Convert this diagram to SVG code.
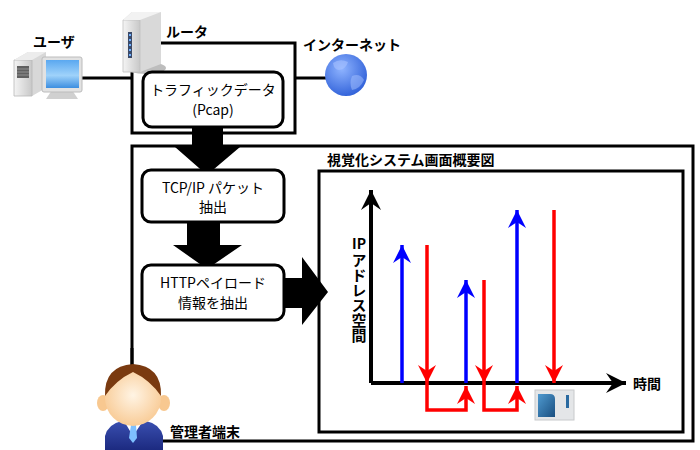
<svg xmlns="http://www.w3.org/2000/svg" width="700" height="450" viewBox="0 0 700 450">
  <defs>
    <style>
      .frame { fill: none; stroke: #000; stroke-width: 3; }
      .proc { fill: #fff; stroke: #000; stroke-width: 3; }
      .lbl { font-family: "Noto Sans CJK JP", "Liberation Sans", sans-serif; font-weight: bold; font-size: 14px; fill: #000; }
      .txt { font-family: "Noto Sans CJK JP", "Liberation Sans", sans-serif; font-size: 14px; fill: #000; }
      .vert { font-family: "Noto Sans CJK JP", "Liberation Sans", sans-serif; font-weight: bold; font-size: 15px; fill: #000; writing-mode: vertical-rl; text-orientation: upright; }
      .flow { fill: #000; }
      .axis { fill: none; stroke: #000; stroke-width: 4; }
      .blue { fill: none; stroke: #0000ff; stroke-width: 3.5; }
      .red { fill: none; stroke: #ff0000; stroke-width: 3.5; }
    </style>
    <marker id="headBlue" viewBox="0 0 20 20" refX="20" refY="10" markerWidth="20" markerHeight="20" markerUnits="userSpaceOnUse" orient="auto">
      <path d="M20,10 L2,1 L8,10 L2,19 Z" fill="#0000ff"/>
    </marker>
    <marker id="headRed" viewBox="0 0 20 20" refX="20" refY="10" markerWidth="20" markerHeight="20" markerUnits="userSpaceOnUse" orient="auto">
      <path d="M20,10 L2,1 L8,10 L2,19 Z" fill="#ff0000"/>
    </marker>
    <marker id="headAxis" viewBox="0 0 22 22" refX="22" refY="11" markerWidth="22" markerHeight="22" markerUnits="userSpaceOnUse" orient="auto">
      <path d="M22,11 L2,1 L9,11 L2,21 Z" fill="#000"/>
    </marker>
    <linearGradient id="screenGrad" x1="0" y1="0" x2="0" y2="1">
      <stop offset="0" stop-color="#5aa8f0"/>
      <stop offset="0.55" stop-color="#9fd2fa"/>
      <stop offset="1" stop-color="#3c8ee0"/>
    </linearGradient>
    <linearGradient id="greyGrad" x1="0" y1="0" x2="1" y2="0">
      <stop offset="0" stop-color="#f4f4f4"/>
      <stop offset="1" stop-color="#c8c8c8"/>
    </linearGradient>
    <radialGradient id="globeGrad" cx="0.4" cy="0.35" r="0.7">
      <stop offset="0" stop-color="#8fb4ff"/>
      <stop offset="1" stop-color="#2e5fd8"/>
    </radialGradient>
    <radialGradient id="faceGrad" cx="0.5" cy="0.45" r="0.6">
      <stop offset="0" stop-color="#fff4e4"/>
      <stop offset="1" stop-color="#f8c890"/>
    </radialGradient>
    <linearGradient id="suitGrad" x1="0" y1="0" x2="0" y2="1">
      <stop offset="0" stop-color="#3a4fb0"/>
      <stop offset="1" stop-color="#1c2a80"/>
    </linearGradient>
    <linearGradient id="winGrad" x1="0" y1="0" x2="1" y2="1">
      <stop offset="0" stop-color="#4f9ad0"/>
      <stop offset="1" stop-color="#1a4f80"/>
    </linearGradient>
  </defs>

  <!-- connectors: network links, frames and data-flow arrows -->
  <g id="connectors">
    <line x1="82" y1="78" x2="132" y2="78" stroke="#000" stroke-width="3"/>
    <line x1="295" y1="78" x2="326" y2="78" stroke="#000" stroke-width="3"/>
    <line x1="132" y1="348" x2="132" y2="366" stroke="#000" stroke-width="3"/>
    <!-- block arrows between processing stages -->
    <path class="flow" d="M192,123 H223 V147 H240 L207,175 L175,147 H192 Z"/>
    <path class="flow" d="M187,221 H220 V245 H242 L207,269 L173,245 H187 Z"/>
    <path class="flow" d="M283,278 H302 V257 L328,292 L302,325 V308 H283 Z"/>
  </g>

  <!-- router frame -->
  <g id="router-frame">
    <path class="frame" d="M158,43 H295 V133 H132 V70"/>
  </g>

  <!-- management terminal frame -->
  <g id="terminal-frame">
    <path class="frame" d="M132,366 V146 H693 V441 H162"/>
  </g>

  <!-- user PC -->
  <g id="user">
    <text class="lbl" x="33" y="47">ユーザ</text>
    <path d="M14,60 L28,52 H46 L46,88 L32,96 H14 Z" fill="#d8d8d8"/>
    <path d="M14,60 H32 V96 H14 Z" fill="url(#greyGrad)" stroke="#b8b8b8" stroke-width="0.8"/>
    <path d="M14,60 L28,52 H46 L32,60 Z" fill="#ececec"/>
    <rect x="17" y="66" width="12" height="12" fill="#606060"/>
    <line x1="17" y1="69" x2="29" y2="69" stroke="#909090" stroke-width="1"/>
    <line x1="17" y1="72" x2="29" y2="72" stroke="#909090" stroke-width="1"/>
    <line x1="17" y1="75" x2="29" y2="75" stroke="#909090" stroke-width="1"/>
    <path d="M52,90 H72 L78,99 H46 Z" fill="#d0d0d0"/>
    <rect x="42" y="57" width="40" height="35" rx="2" fill="#e2e2e2" stroke="#bcbcbc" stroke-width="1"/>
    <rect x="46" y="60" width="33" height="28" fill="url(#screenGrad)"/>
  </g>

  <!-- router -->
  <g id="router">
    <text class="lbl" x="166" y="37">ルータ</text>
    <ellipse cx="146" cy="68" rx="20" ry="6" fill="#bdbdbd"/>
    <path d="M123,20 L132,12 H161 V64 L140,72 H123 Z" fill="#d9d9d9"/>
    <path d="M123,20 H140 V72 H123 Z" fill="url(#greyGrad)" stroke="#c0c0c0" stroke-width="0.8"/>
    <path d="M123,20 L132,12 H161 L140,20 Z" fill="#f2f2f2"/>
    <rect x="128" y="32" width="4" height="26" fill="#3a4a6a"/>
    <g fill="#6fb0ff">
      <rect x="129" y="34" width="2" height="2"/>
      <rect x="129" y="39" width="2" height="2"/>
      <rect x="129" y="44" width="2" height="2"/>
      <rect x="129" y="49" width="2" height="2"/>
      <rect x="129" y="54" width="2" height="2"/>
    </g>
  </g>

  <!-- internet -->
  <g id="internet">
    <text class="lbl" x="303" y="50">インターネット</text>
    <circle cx="346" cy="75" r="21" fill="url(#globeGrad)"/>
    <path d="M333,63 Q340,58 348,62 Q346,69 339,70 Q334,70 333,63 Z" fill="#a6c2ff" opacity="0.6"/>
    <path d="M352,76 Q360,73 364,80 Q360,89 352,90 Q349,83 352,76 Z" fill="#a6c2ff" opacity="0.5"/>
  </g>

  <!-- captured traffic -->
  <g id="traffic-data">
    <rect class="proc" x="143" y="72" width="140" height="55" rx="9"/>
    <text class="txt" x="213" y="95" text-anchor="middle">トラフィックデータ</text>
    <text class="txt" x="213" y="115" text-anchor="middle" font-size="12">(Pcap)</text>
  </g>

  <!-- packet extraction stage -->
  <g id="packet-extract">
    <rect class="proc" x="142" y="170" width="142" height="52" rx="9"/>
    <text class="txt" x="213" y="193" text-anchor="middle">TCP/IP パケット</text>
    <text class="txt" x="213" y="212" text-anchor="middle">抽出</text>
  </g>

  <!-- payload extraction stage -->
  <g id="payload-extract">
    <rect class="proc" x="142" y="265" width="142" height="55" rx="9"/>
    <text class="txt" x="213" y="288" text-anchor="middle" font-size="15">HTTPペイロード</text>
    <text class="txt" x="213" y="308" text-anchor="middle" font-size="15">情報を抽出</text>
  </g>

  <!-- visualization screen -->
  <g id="visualization">
    <text class="lbl" x="327" y="165" font-size="14.5">視覚化システム画面概要図</text>
    <rect class="frame" x="319" y="171" width="364" height="261"/>
    <path class="axis" d="M371,383 V190" marker-end="url(#headAxis)"/>
    <path class="axis" d="M371,383 H626" marker-end="url(#headAxis)"/>
    <!-- vertical axis caption -->
    <text class="lbl" x="359" y="249" text-anchor="middle" font-size="15">IP</text>
    <text class="vert" x="359" y="253">アドレス空間</text>
    <text class="lbl" x="633" y="389" font-size="15">時間</text>
    <!-- traffic events on the IP/time plane -->
    <path class="blue" d="M402,383 V245" marker-end="url(#headBlue)"/>
    <path class="red" d="M427,245 V383" marker-end="url(#headRed)"/>
    <path class="red" d="M427,383 V410 H466 V386" marker-end="url(#headRed)"/>
    <path class="blue" d="M466,383 V280" marker-end="url(#headBlue)"/>
    <path class="red" d="M484,280 V383" marker-end="url(#headRed)"/>
    <path class="red" d="M484,383 V410 H517 V386" marker-end="url(#headRed)"/>
    <path class="blue" d="M517,383 V210" marker-end="url(#headBlue)"/>
    <path class="red" d="M554,210 V383" marker-end="url(#headRed)"/>
    <!-- window icon -->
    <rect x="535" y="390" width="39" height="30" fill="#e4e6e8" stroke="#c8cacc" stroke-width="1"/>
    <path d="M538,417 V394 H550 Q555,394 555,399 V417 Z" fill="url(#winGrad)"/>
    <rect x="566" y="395" width="3" height="13" fill="#2a6aa0"/>
  </g>

  <!-- administrator terminal -->
  <g id="admin">
    <path d="M105,450 V436 Q108,424 122,421 H146 Q160,424 163,436 V450 Z" fill="url(#suitGrad)"/>
    <path d="M124,421 L133,436 L143,421 Z" fill="#ffffff"/>
    <path d="M131,425 H136 L137,438 L133,443 L129,438 Z" fill="#7ec0ff"/>
    <ellipse cx="103" cy="403" rx="6" ry="8" fill="#f8c890"/>
    <ellipse cx="164" cy="403" rx="6" ry="8" fill="#f8c890"/>
    <ellipse cx="133" cy="398" rx="28" ry="28" fill="url(#faceGrad)"/>
    <path d="M105,396 Q104,366 133,364 Q162,366 161,396 Q150,380 133,372 Q116,380 105,396 Z" fill="#7a3a10"/>
    <text class="lbl" x="170" y="437" font-size="15">管理者端末</text>
  </g>
</svg>
